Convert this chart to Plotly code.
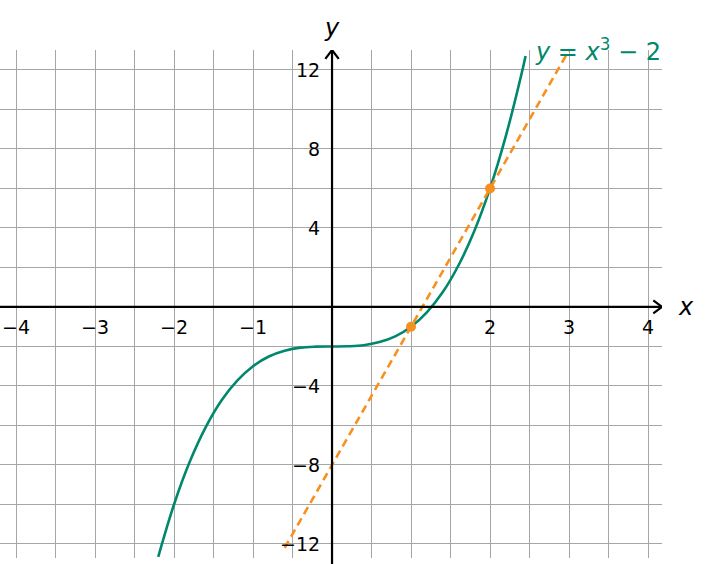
import plotly.graph_objects as go

curve_x = [-2.2, -2.0, -1.8, -1.6, -1.4, -1.2, -1.0, -0.8, -0.6, -0.4, -0.2, 0.0,
           0.2, 0.4, 0.6, 0.8, 1.0, 1.2, 1.4, 1.6, 1.8, 2.0, 2.2, 2.4, 2.45]
curve_y = [-12.65, -10.0, -7.83, -6.10, -4.74, -3.73, -3.0, -2.51, -2.22, -2.06, -2.01, -2.0,
           -1.99, -1.94, -1.78, -1.49, -1.0, -0.27, 0.74, 2.10, 3.83, 6.0, 8.65, 11.82, 12.71]

# secant line through the two marked points
line_x = [-0.6, 3.0]
line_y = [-12.2, 13.0]

point_x = [1, 2]
point_y = [-1, 6]

x_ticks = [-4, -3, -2, -1, 2, 3, 4]
x_labels = ["−4", "−3", "−2", "−1", "2", "3", "4"]
y_ticks = [12, 8, 4, -4, -8, -12]
y_labels = ["12", "8", "4", "−4", "−8", "−12"]

GREEN = "#00876c"
ORANGE = "#f7901e"
FONT = "DejaVu Sans"

XR = [-4.203, 4.177]
YR = [-12.71, 13.01]

fig = go.Figure()
fig.add_trace(go.Scatter(x=curve_x, y=curve_y, mode="lines",
                         line=dict(color=GREEN, width=2.6, shape="spline"),
                         hoverinfo="skip"))
fig.add_trace(go.Scatter(x=line_x, y=line_y, mode="lines",
                         line=dict(color=ORANGE, width=2.6, dash="8px,5px"),
                         hoverinfo="skip"))
fig.add_trace(go.Scatter(x=point_x, y=point_y, mode="markers",
                         marker=dict(color=ORANGE, size=10), hoverinfo="skip"))

annotations = []
for v, t in zip(x_ticks, x_labels):
    annotations.append(dict(x=v, y=0, text=t, showarrow=False, xanchor="center",
                            yanchor="middle", yshift=-20,
                            font=dict(family=FONT, size=19, color="black")))
for v, t in zip(y_ticks, y_labels):
    annotations.append(dict(x=0, y=v, text=t, showarrow=False, xanchor="right",
                            yanchor="middle", xshift=-10,
                            font=dict(family=FONT, size=19, color="black")))
annotations.append(dict(x=1, xref="paper", y=0, text="<i>x</i>", showarrow=False,
                        xanchor="left", yanchor="middle", xshift=14,
                        font=dict(family=FONT, size=24, color="black")))
annotations.append(dict(x=0, y=1, yref="paper", text="<i>y</i>", showarrow=False,
                        xanchor="center", yanchor="bottom", yshift=6,
                        font=dict(family=FONT, size=24, color="black")))
annotations.append(dict(x=2.55, y=13.0, text="<i>y</i> = <i>x</i><sup>3</sup> − 2",
                        showarrow=False, xanchor="left", yanchor="middle",
                        font=dict(family=FONT, size=24, color=GREEN)))

shapes = [
    dict(type="line", xref="paper", yref="y", x0=0, x1=1, y0=0, y1=0,
         line=dict(color="black", width=2.2)),
    dict(type="line", xref="x", yref="paper", x0=0, x1=0, y0=-0.02, y1=1,
         line=dict(color="black", width=2.2)),
    dict(type="path", xref="x", yref="y",
         path=f"M {XR[1]-0.11},0.33 L {XR[1]},0 L {XR[1]-0.11},-0.33",
         line=dict(color="black", width=2.2)),
    dict(type="path", xref="x", yref="y",
         path=f"M -0.085,{YR[1]-0.45} L 0,{YR[1]} L 0.085,{YR[1]-0.45}",
         line=dict(color="black", width=2.2)),
]

fig.update_layout(
    width=711, height=564,
    margin=dict(l=0, r=49, t=50, b=6, autoexpand=False),
    paper_bgcolor="white", plot_bgcolor="white",
    showlegend=False,
    xaxis=dict(range=XR, tick0=0, dtick=0.5, showgrid=True, gridcolor="#a6a6a6",
               gridwidth=1, zeroline=False, showticklabels=False, showline=False,
               fixedrange=True),
    yaxis=dict(range=YR, tick0=0, dtick=2, showgrid=True, gridcolor="#a6a6a6",
               gridwidth=1, zeroline=False, showticklabels=False, showline=False,
               fixedrange=True),
    annotations=annotations,
    shapes=shapes,
)

fig.write_html("out.html", config={"displayModeBar": False},
               post_script="document.body.style.margin='0px';document.body.style.overflow='hidden';")
